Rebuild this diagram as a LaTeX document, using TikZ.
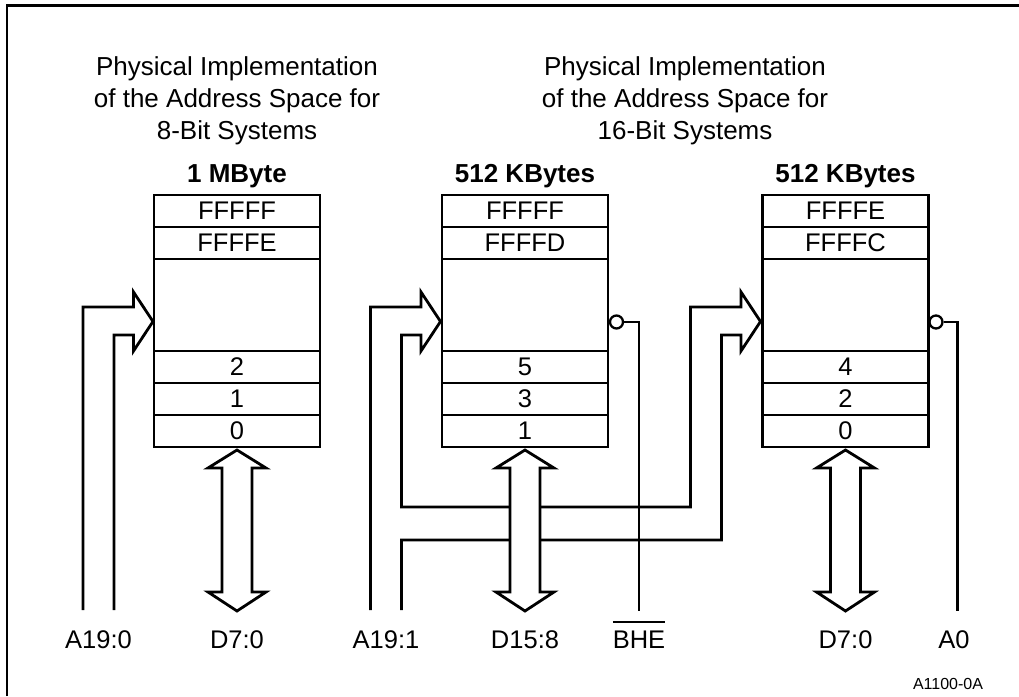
\documentclass[tikz,border=0pt]{standalone}
\usepackage{fontspec}
\setmainfont{Liberation Sans}
\usetikzlibrary{positioning}

% signal name with a bar over it
\newcommand{\barsig}[1]{\vbox{\hrule height 2.8pt\kern 7pt\hbox{#1}}}

\tikzset{
    cell/.style={draw, line width=2.8pt, minimum width=166pt, minimum height=32pt,
        inner sep=0pt, font=\fontsize{25.5}{30}\selectfont},
    head/.style={anchor=base, inner sep=0pt, font=\fontsize{26}{32}\selectfont\bfseries},
    title/.style={anchor=north, align=center, inner sep=0pt, font=\fontsize{26}{32}\selectfont},
    sig/.style={anchor=base, inner sep=0pt, font=\fontsize{25.5}{30}\selectfont},
    wire/.style={line width=2.8pt},
    thinwire/.style={line width=2.3pt},
    bubble/.style={circle, draw, line width=2.3pt, fill=white, minimum size=13pt, inner sep=0pt},
    addrhead/.style={insert path={-- ++(50.5,0) -- ++(0,-15) -- ++(19.5,29.5) -- ++(-19.5,29.5) -- ++(0,-16) -- ++(-19.5,0)}}
}

\begin{document}
\begin{tikzpicture}[x=1pt, y=-1pt]
    \useasboundingbox (0,0) rectangle (1019,696);
    % Frame
    \draw[line width=2.7pt] (7,696) -- (7,5.3) -- (1019,5.3);

    % Titles
    \node[title] (t8) at (237,56) {Physical Implementation\\of the Address Space for\\8-Bit Systems};
    \node[title] (t16) at (685,56) {Physical Implementation\\of the Address Space for\\16-Bit Systems};

    % Memory banks
    \foreach \cx/\nm/\hd/\ra/\rb/\rc/\rd/\re in {237/ma/1 MByte/FFFFF/FFFFE/2/1/0,
            525/mb/512 KBytes/FFFFF/FFFFD/5/3/1, 845.5/mc/512 KBytes/FFFFE/FFFFC/4/2/0} {
        \node[head] (\nm-h) at (\cx,182) {\hd};
        \node[cell] (\nm-1) at (\cx,211) {\ra};
        \node[cell] (\nm-2) at (\cx,243) {\rb};
        \node[cell, minimum height=92pt] (\nm-3) at (\cx,305) {};
        \node[cell] (\nm-4) at (\cx,367) {\rc};
        \node[cell] (\nm-5) at (\cx,399) {\rd};
        \node[cell] (\nm-6) at (\cx,431) {\re};
    }

    % Signal names
    \node[sig] (a190) at (98.5,648) {A19:0};
    \node[sig] (d70a) at (237,648) {D7:0};
    \node[sig] (a191) at (386,648) {A19:1};
    \node[sig] (d158) at (525,648) {D15:8};
    \node[sig] (bhe) at (639,648) {\barsig{BHE}};
    \node[sig] (d70b) at (845.5,648) {D7:0};
    \node[sig] (a0) at (954,648) {A0};
    \node[anchor=base, inner sep=0pt, font=\fontsize{16}{19}\selectfont] (fig) at (948,689) {A1100-0A};

    % Line ends
    \coordinate (a190o) at (83,610);
    \coordinate (a190i) at (114,610);
    \coordinate (a191o) at (370.5,610);
    \coordinate (a191i) at (401.5,610);
    \coordinate (j1) at (690.5,507);
    \coordinate (j2) at (401.5,540);
    \coordinate (bhe-end) at (639,611);
    \coordinate (a0-end) at (957.5,611);

    % Address buses
    \draw[wire] (a190o) -- ++(0,-303) [addrhead] -- (a190i);
    \draw[wire] (a191o) -- ++(0,-303) [addrhead] |- (j1) -- ++(0,-200) [addrhead] |- (j2) -- (a191i);

    % Enables
    \node[bubble] (bhe-o) at (616.5,322) {};
    \node[bubble] (a0-o) at (936,322) {};
    \draw[thinwire] (bhe-o) -| (bhe-end);
    \draw[thinwire] (a0-o) -| (a0-end);

    % Data buses
    \foreach \xc in {237, 525, 845.5} {
        \draw[wire, fill=white] (\xc,450) -- ++(29,18) -- ++(-14,0) -- ++(0,124) -- ++(14,0)
            -- ++(-29,19) -- ++(-29,-19) -- ++(14,0) -- ++(0,-124) -- ++(-14,0) -- cycle;
    }
\end{tikzpicture}
\end{document}
